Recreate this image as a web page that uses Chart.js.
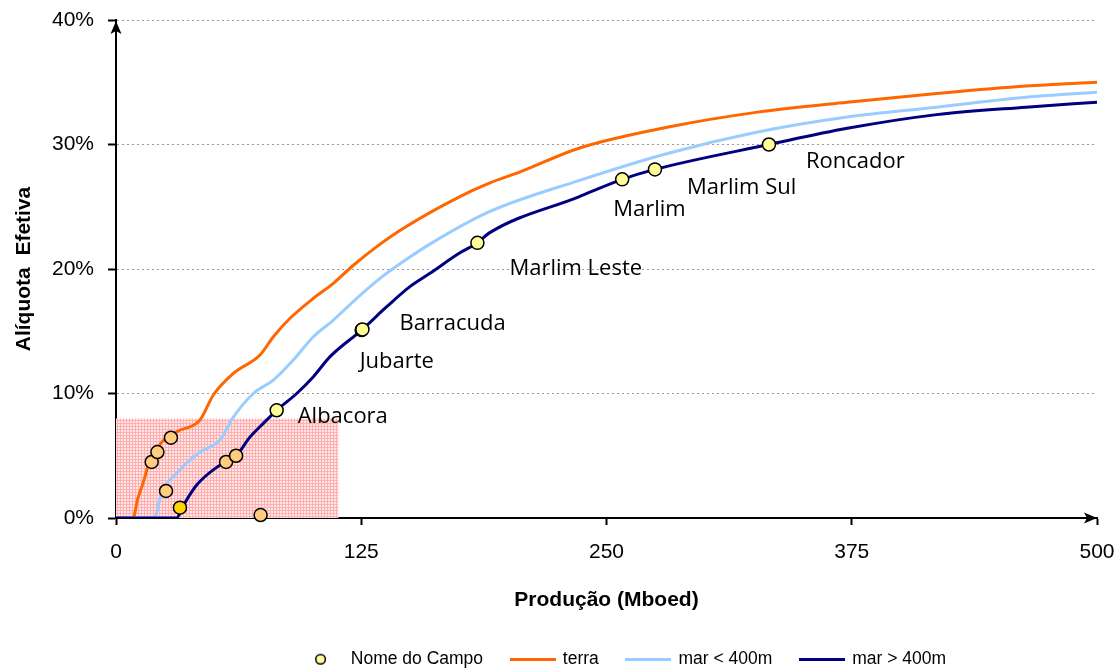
<!DOCTYPE html>
<html>
<head>
<meta charset="utf-8">
<script src="https://cdn.jsdelivr.net/npm/chart.js@4.4.1/dist/chart.umd.min.js"></script>
<style>
  html, body { margin: 0; padding: 0; background: #fff; }
</style>
</head>
<body>
<canvas id="myChart" width="1119" height="668"></canvas>
<script>
// curvas de aliquota efetiva (Mboed x %)
const terraX = [0, 8.7, 11, 13.8, 17.3, 23.4, 30.9, 42.8, 49.6, 59.8, 73.4, 80.2, 88.7, 100.6, 110.8, 121, 132.9, 144.7, 175, 190.3, 206, 235.9, 281.5, 327.1, 372.7, 418.3, 463.8, 500];
const terraY = [0, 0, 1.5, 2.8, 4.66, 6.1, 6.93, 7.87, 9.88, 11.62, 13.09, 14.56, 16.04, 17.65, 18.85, 20.3, 21.8, 23.1, 25.8, 26.9, 27.8, 29.7, 31.4, 32.6, 33.4, 34.1, 34.7, 35.0];

const marRasoX = [0, 19.9, 21.5, 23.3, 30.9, 42.8, 53.0, 59.8, 70.0, 80.2, 90.4, 100.6, 110.8, 122.7, 134.6, 146.4, 160, 190.3, 235.9, 281.5, 327.1, 372.7, 418.3, 463.8, 500];
const marRasoY = [0, 0, 1.0, 2.0, 3.6, 5.3, 6.27, 8.1, 10.0, 11.08, 12.69, 14.56, 15.9, 17.65, 19.25, 20.6, 22.0, 24.6, 27.1, 29.3, 31.0, 32.2, 33.0, 33.8, 34.2];

const marFundoX = [0, 30.9, 34.3, 41.1, 51.3, 61.5, 68.3, 75.1, 81.9, 92.1, 100.6, 109.1, 125.2, 138.0, 149.8, 160, 175.3, 184.2, 190.3, 235.9, 258, 274.7, 332.8, 372.7, 418.3, 463.8, 500];
const marFundoY = [0, 0, 1.0, 2.65, 4.07, 5.06, 6.5, 7.6, 8.65, 10.0, 11.35, 12.96, 15.1, 16.97, 18.58, 19.65, 21.3, 22.1, 22.9, 25.8, 27.2, 28.0, 30.0, 31.3, 32.4, 33.0, 33.4];

// campos com nome
const campoNomes = ['Albacora', 'Jubarte', 'Barracuda', 'Marlim Leste', 'Marlim', 'Marlim Sul', 'Roncador'];
const campoX = [81.9, 125.2, 125.6, 184.2, 258, 274.7, 332.8];
const campoY = [8.65, 15.1, 15.15, 22.1, 27.2, 28.0, 30.0];

// campos pequenos sem nome
const pequenosX = [18.2, 21.1, 28.0, 25.5, 56.1, 61.2, 73.7];
const pequenosY = [4.5, 5.3, 6.45, 2.17, 4.5, 5.0, 0.24];
const destaqueX = [32.6];
const destaqueY = [0.83];

// area hachurada
const areaX = [0, 113.5];
const areaY = [8, 8];

const xTicks = [0, 125, 250, 375, 500];
const yTicks = [0, 10, 20, 30, 40];

function pts(xs, ys) {
    return xs.map((x, i) => ({x: x, y: ys[i]}));
}

// posicao dos rotulos em px relativo ao ponto (esquerda / linha de base)
const labelOffsets = [[21, 13], [-2, 38], [37, 1], [32, 32], [-9, 37], [32, 25], [37, 23]];

function lineIcon(color) {
    const c = document.createElement('canvas');
    c.width = 46; c.height = 3;
    const g = c.getContext('2d');
    g.fillStyle = color;
    g.fillRect(0, 0, 46, 3);
    return c;
}

function dotIcon() {
    const c = document.createElement('canvas');
    c.width = 13; c.height = 13;
    const g = c.getContext('2d');
    g.beginPath();
    g.arc(6.5, 6.5, 4.8, 0, Math.PI * 2);
    g.fillStyle = '#FFFF99';
    g.fill();
    g.lineWidth = 1.5;
    g.strokeStyle = '#000';
    g.stroke();
    return c;
}

function hatch() {
    const t = document.createElement('canvas');
    t.width = 3; t.height = 3;
    const g = t.getContext('2d');
    g.fillStyle = 'rgb(255,232,232)';
    g.fillRect(0, 0, 3, 3);
    g.fillStyle = 'rgb(255,175,175)';
    g.fillRect(0, 0, 3, 1);
    g.fillRect(0, 0, 1, 3);
    return g.createPattern(t, 'repeat');
}

const extras = {
    id: 'extras',
    afterLayout(chart) {
        const lg = chart.legend;
        lg.top += 10; lg.bottom += 10;
        lg.left += 74; lg.right += 74;
    },
    afterDatasetsDraw(chart) {
        const ctx = chart.ctx;
        const sx = chart.scales.x, sy = chart.scales.y;
        ctx.save();
        ctx.font = '22px "Open Sans"';
        ctx.fillStyle = '#000';
        ctx.textAlign = 'left';
        ctx.textBaseline = 'alphabetic';
        campoNomes.forEach((nome, i) => {
            const px = sx.getPixelForValue(campoX[i]) + labelOffsets[i][0];
            const py = sy.getPixelForValue(campoY[i]) + labelOffsets[i][1];
            ctx.fillText(nome, px, py);
        });
        ctx.restore();
    },
    afterDraw(chart) {
        const ctx = chart.ctx;
        const a = chart.chartArea;
        function arrow(x, y, rot) {
            ctx.save();
            ctx.translate(x, y);
            ctx.rotate(rot);
            ctx.beginPath();
            ctx.moveTo(0, 0);
            ctx.lineTo(5.5, 13);
            ctx.lineTo(0, 10);
            ctx.lineTo(-5.5, 13);
            ctx.closePath();
            ctx.fillStyle = '#000';
            ctx.fill();
            ctx.restore();
        }
        arrow(a.left, a.top + 1, 0);
        arrow(a.right, a.bottom, Math.PI / 2);
    }
};

Chart.defaults.color = '#000';
Chart.defaults.font.family = '"Liberation Sans", Arial, sans-serif';

const curve = { borderWidth: 3, pointRadius: 0, cubicInterpolationMode: 'monotone' };
const dots = { showLine: false, pointRadius: 6.5, pointBorderWidth: 1.5, pointBorderColor: '#000', clip: false, order: 0 };

const ctx = document.getElementById('myChart').getContext('2d');
const chart = new Chart(ctx, {
    type: 'line',
    data: {
        datasets: [
            Object.assign({
                label: 'Nome do Campo',
                data: pts(campoX, campoY),
                pointBackgroundColor: '#FFFF99',
                legendIcon: dotIcon()
            }, dots),
            Object.assign({
                label: 'terra',
                data: pts(terraX, terraY),
                borderColor: '#FF6600',
                legendIcon: lineIcon('#FF6600'),
                order: 3
            }, curve),
            Object.assign({
                label: 'mar < 400m',
                data: pts(marRasoX, marRasoY),
                borderColor: '#99CCFF',
                legendIcon: lineIcon('#99CCFF'),
                order: 2
            }, curve),
            Object.assign({
                label: 'mar > 400m',
                data: pts(marFundoX, marFundoY),
                borderColor: '#000080',
                legendIcon: lineIcon('#000080'),
                order: 1
            }, curve),
            Object.assign({
                label: 'pequenos',
                data: pts(pequenosX, pequenosY),
                pointBackgroundColor: '#FFCC80'
            }, dots),
            Object.assign({
                label: 'destaque',
                data: pts(destaqueX, destaqueY),
                pointBackgroundColor: '#FFD400'
            }, dots),
            {
                label: 'area',
                data: pts(areaX, areaY),
                borderWidth: 0,
                pointRadius: 0,
                fill: 'origin',
                backgroundColor: hatch(),
                order: 4
            }
        ]
    },
    options: {
        responsive: false,
        animation: false,
        layout: { padding: { top: 20, right: 22, left: 0, bottom: 0 } },
        plugins: {
            tooltip: { enabled: false },
            legend: {
                position: 'bottom',
                labels: {
                    usePointStyle: true,
                    pointStyleWidth: 43,
                    padding: 28,
                    color: '#000',
                    font: { size: 17.5 },
                    generateLabels: function(chart) {
                        return chart.data.datasets
                            .map((ds, i) => ({ds: ds, i: i}))
                            .filter(o => o.ds.legendIcon)
                            .map(o => ({
                                text: o.ds.label,
                                pointStyle: o.ds.legendIcon,
                                fillStyle: 'transparent',
                                strokeStyle: 'transparent',
                                lineWidth: 0,
                                hidden: false,
                                datasetIndex: o.i
                            }));
                    }
                }
            }
        },
        scales: {
            x: {
                type: 'linear',
                min: 0,
                max: 500,
                afterBuildTicks: s => { s.ticks = xTicks.map(v => ({value: v})); },
                afterFit: s => { s.height = 94.5; s.paddingLeft = 0; s.paddingRight = 0; },
                ticks: { font: { size: 21 }, padding: 15, maxRotation: 0 },
                grid: { drawOnChartArea: false, tickLength: 7, tickColor: '#000', tickWidth: 2 },
                border: { display: true, color: '#000', width: 2 },
                title: {
                    display: true,
                    text: 'Produção (Mboed)',
                    font: { size: 21, weight: 'bold' },
                    padding: { top: 0, bottom: 0 }
                }
            },
            y: {
                min: 0,
                max: 40,
                afterBuildTicks: s => { s.ticks = yTicks.map(v => ({value: v})); },
                afterFit: s => { s.width = 116; s.paddingTop = 0; s.paddingBottom = 0; },
                ticks: { font: { size: 21 }, padding: 14, callback: v => v + '%' },
                grid: {
                    color: '#9a9a9a',
                    lineWidth: 1,
                    tickLength: 8,
                    tickColor: '#000',
                    tickWidth: 2,
                    tickBorderDash: []
                },
                border: { display: true, color: '#000', width: 2, dash: [2, 3] },
                title: {
                    display: true,
                    text: 'Alíquota  Efetiva',
                    font: { size: 21, weight: 'bold' },
                    padding: { top: 12, bottom: 0 }
                }
            }
        }
    },
    plugins: [extras]
});
</script>
</body>
</html>
